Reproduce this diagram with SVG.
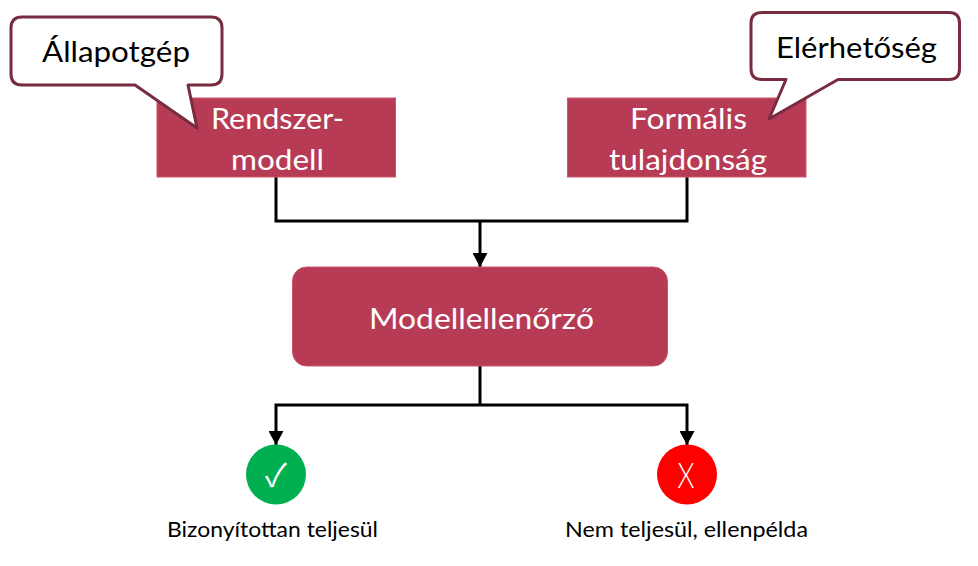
<svg xmlns="http://www.w3.org/2000/svg" width="978" height="566" viewBox="0 0 978 566">
<style>
text{font-family:Lato,"Open Sans","Noto Sans",sans-serif;text-anchor:middle}
.box{fill:#b83b55;stroke:#c9566e;stroke-width:1}
.call{fill:#fff;stroke:#772c3f;stroke-width:3;stroke-linejoin:round}
.w{fill:#fff}
.k{fill:#000}
.lg{font-size:29px}
.sm{font-size:22px}
.wire{fill:none;stroke:#000;stroke-width:3;stroke-linejoin:miter}
</style>
<defs>
<marker id="arrow" markerUnits="userSpaceOnUse" markerWidth="14" markerHeight="15" refX="14" refY="7.500" orient="auto"><path d="M0 0L14 7.500L0 15Z" fill="#000"/></marker>
</defs>
<rect width="978" height="566" fill="#fff"/>
<g id="connectors">
<path class="wire" d="M276 177V221H687V177"/>
<path class="wire" d="M480 221V267" marker-end="url(#arrow)"/>
<path class="wire" d="M480 366V405"/>
<path class="wire" d="M480 405H276V445" marker-end="url(#arrow)"/>
<path class="wire" d="M480 405H687V445" marker-end="url(#arrow)"/>
</g>
<g id="rendszermodell">
<rect class="box" x="157" y="98" width="238.500" height="79"/>
<text class="w lg" x="277.500" y="129" textLength="133" lengthAdjust="spacingAndGlyphs">Rendszer-</text>
<text class="w lg" x="277.500" y="170" textLength="93" lengthAdjust="spacingAndGlyphs">modell</text>
</g>
<g id="formalis-tulajdonsag">
<rect class="box" x="567.500" y="98" width="238.500" height="79"/>
<text class="w lg" x="688.500" y="129" textLength="117" lengthAdjust="spacingAndGlyphs">Formális</text>
<text class="w lg" x="688" y="170" textLength="158" lengthAdjust="spacingAndGlyphs">tulajdonság</text>
</g>
<g id="allapotgep">
<path class="call" d="M22 17H211Q222 17 222 28V74Q222 85 211 85H188L197 128L135 85H22Q11 85 11 74V28Q11 17 22 17Z"/>
<text class="k lg" x="116" y="62" textLength="148" lengthAdjust="spacingAndGlyphs">Állapotgép</text>
</g>
<g id="elerhetoseg">
<path class="call" d="M762 12.500H949Q959.500 12.500 959.500 23V69Q959.500 79.500 949 79.500H838L769 119L786 79.500H762Q751 79.500 751 69V23Q751 12.500 762 12.500Z"/>
<text class="k lg" x="856.500" y="58" textLength="161" lengthAdjust="spacingAndGlyphs">Elérhetőség</text>
</g>
<g id="modellellenorzo">
<rect class="box" x="292.500" y="267" width="375" height="99" rx="14"/>
<text class="w lg" x="481.500" y="329" textLength="225" lengthAdjust="spacingAndGlyphs">Modellellenőrző</text>
</g>
<g id="bizonyitottan">
<circle cx="276" cy="474.500" r="30" fill="#00b050"/>
<text class="w" x="276" y="487" style="font-family:'Noto Sans CJK SC','DejaVu Sans',sans-serif;font-size:32px">✓</text>
<text class="k sm" x="272.500" y="537" textLength="211" lengthAdjust="spacingAndGlyphs">Bizonyítottan teljesül</text>
</g>
<g id="nem-teljesul">
<circle cx="687" cy="474.500" r="30" fill="#f00"/>
<text class="w" x="686" y="488" textLength="17" lengthAdjust="spacingAndGlyphs" style="font-size:36px;font-weight:300">X</text>
<text class="k sm" x="686.500" y="537" textLength="243" lengthAdjust="spacingAndGlyphs">Nem teljesül, ellenpélda</text>
</g>
</svg>
